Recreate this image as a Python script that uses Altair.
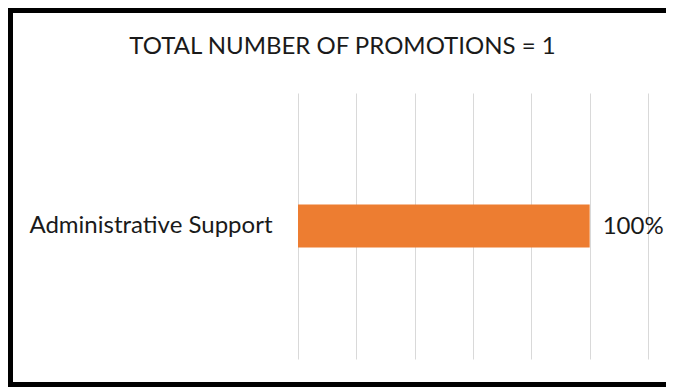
import altair as alt
import pandas as pd

categories = ["Administrative Support"]
values = [1.0]
labels = ["100%"]
grid_ticks = [0, 0.2, 0.4, 0.6, 0.8, 1.0, 1.2]
title_text = "TOTAL NUMBER OF PROMOTIONS = 1"

df = pd.DataFrame({"category": categories, "value": values, "label": labels})

FONT = "Lato"
TXT = "#1a1a1a"
FS = 24

base = alt.Chart(df)

bars = base.mark_bar(color="#ED7D31", height=43).encode(
    x=alt.X(
        "value:Q",
        scale=alt.Scale(domain=[0, 1.2], nice=False),
        axis=alt.Axis(values=grid_ticks, labels=False, ticks=False, domain=False,
                      grid=True, gridColor="#D9D9D9", gridWidth=1, title=None),
    ),
    y=alt.Y(
        "category:N",
        axis=alt.Axis(title=None, domain=False, ticks=False, labelPadding=26,
                      labelFontSize=FS, labelFont=FONT, labelColor=TXT, labelLimit=0),
    ),
)

text = base.mark_text(align="left", baseline="middle", dx=13, dy=1,
                      font=FONT, fontSize=FS, color=TXT).encode(
    x="value:Q", y="category:N", text="label:N"
)

title = base.mark_text(align="center", baseline="alphabetic", font=FONT,
                       fontSize=FS, color=TXT).encode(
    x=alt.value(44.5), y=alt.value(-39), text=alt.value(title_text)
)

frame = base.mark_rect(fillOpacity=0, stroke="black", strokeWidth=5).encode(
    x=alt.value(-287.5), x2=alt.value(420), y=alt.value(-82.5), y2=alt.value(291.5)
)

chart = (
    alt.layer(bars, text, title, frame)
    .properties(
        width=350,
        height=266,
        autosize=alt.AutoSizeParams(type="none"),
        padding={"left": 290, "top": 85, "right": 18, "bottom": 28},
    )
    .configure_view(stroke=None)
)

chart.save("out.html", embed_options={"renderer": "svg", "actions": False})
